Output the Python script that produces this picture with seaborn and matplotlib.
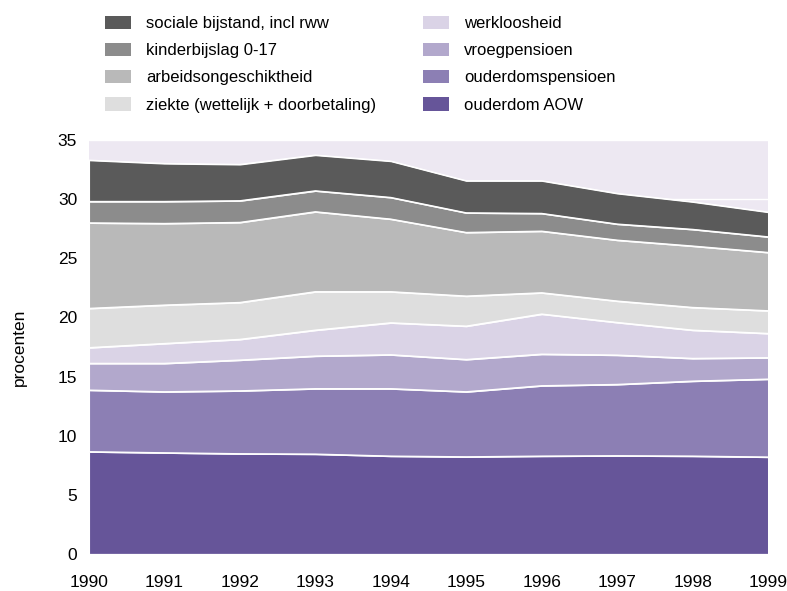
import matplotlib
matplotlib.use("Agg")
import matplotlib.pyplot as plt
import seaborn as sns
import pandas as pd
from matplotlib.patches import Patch

years = [1990, 1991, 1992, 1993, 1994, 1995, 1996, 1997, 1998, 1999]
ouderdom_aow = [8.65, 8.56, 8.48, 8.45, 8.28, 8.22, 8.28, 8.31, 8.28, 8.20]
ouderdomspensioen = [5.21, 5.16, 5.32, 5.53, 5.70, 5.50, 5.95, 6.03, 6.34, 6.59]
vroegpensioen = [2.26, 2.40, 2.60, 2.76, 2.87, 2.73, 2.67, 2.48, 1.92, 1.81]
werkloosheid = [1.33, 1.68, 1.75, 2.19, 2.70, 2.82, 3.39, 2.76, 2.39, 2.05]
ziekte = [3.32, 3.25, 3.12, 3.25, 2.63, 2.54, 1.80, 1.81, 1.92, 1.92]
arbeidsongeschiktheid = [7.23, 6.90, 6.77, 6.76, 6.14, 5.38, 5.21, 5.15, 5.19, 4.93]
kinderbijslag = [1.81, 1.86, 1.83, 1.77, 1.83, 1.66, 1.50, 1.36, 1.41, 1.32]
sociale_bijstand = [3.49, 3.21, 3.07, 3.02, 3.07, 2.71, 2.76, 2.59, 2.33, 2.09]

labels = ["ouderdom AOW", "ouderdomspensioen", "vroegpensioen", "werkloosheid",
          "ziekte (wettelijk + doorbetaling)", "arbeidsongeschiktheid",
          "kinderbijslag 0-17", "sociale bijstand, incl rww"]
series = [ouderdom_aow, ouderdomspensioen, vroegpensioen, werkloosheid,
          ziekte, arbeidsongeschiktheid, kinderbijslag, sociale_bijstand]
colors = ["#665599", "#8c7fb4", "#b2a8cc", "#dad3e6",
          "#dedede", "#b9b9b9", "#8c8c8c", "#5a5a5a"]

df = pd.DataFrame(dict(zip(labels, series)), index=years)

sns.set_style("white")
plt.rcParams['font.family'] = ['Liberation Sans', 'DejaVu Sans']
plt.rcParams['text.color'] = 'black'
plt.rcParams['axes.labelcolor'] = 'black'
plt.rcParams['xtick.color'] = 'black'
plt.rcParams['ytick.color'] = 'black'

fig = plt.figure(figsize=(7.87, 5.91), dpi=100)
ax = fig.add_axes([0.113, 0.0626, 0.863, 0.7004])
ax.set_facecolor("#ede8f2")
ax.yaxis.grid(True, color="white", linewidth=1)
ax.set_axisbelow(True)

ax.stackplot(df.index, [df[c].values for c in labels], colors=colors,
             edgecolor="white", linewidth=0.9, zorder=2)

# white boundary lines via seaborn
cum = df.cumsum(axis=1)
for c in labels:
    sns.lineplot(x=cum.index, y=cum[c].values, ax=ax, color="white",
                 linewidth=0.9, zorder=3)

ax.set_xlim(1990, 1999)
ax.set_ylim(0, 35)
ax.set_xticks(years)
ax.set_yticks(range(0, 36, 5))
ax.tick_params(axis="both", labelsize=12.5, length=0)
ax.tick_params(axis="x", pad=15)
ax.tick_params(axis="y", pad=8.5)
for s in ax.spines.values():
    s.set_visible(False)
ax.set_ylabel("procenten", fontsize=12.5, labelpad=22)
ax.set_xlabel("")

order = [7, 6, 5, 4, 3, 2, 1, 0]
handles = [Patch(facecolor=colors[i], edgecolor="none") for i in order]
fig.legend(handles, [labels[i] for i in order], ncol=2, loc="upper left",
           bbox_to_anchor=(0.125, 0.985), borderaxespad=0, frameon=False,
           fontsize=12, handlelength=1.56, handleheight=0.85,
           handletextpad=0.9, columnspacing=2.8, labelspacing=0.71)

fig.savefig("out.png", dpi=100)
